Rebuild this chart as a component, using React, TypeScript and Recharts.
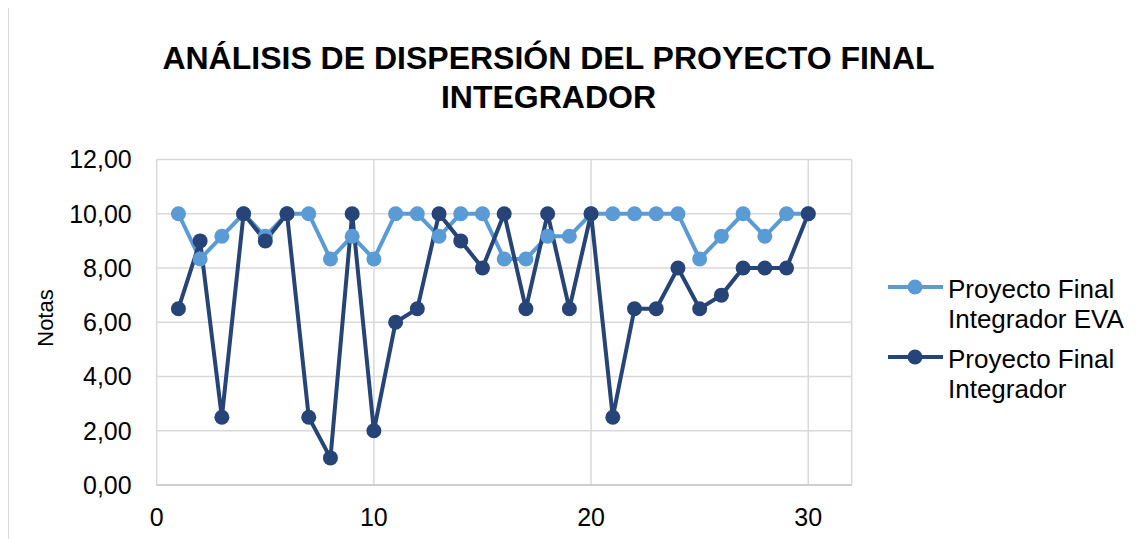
import { LineChart, Line, XAxis, YAxis, CartesianGrid, Legend, Label } from 'recharts';

const FONT = '"Liberation Sans", Arial, sans-serif';

const students = [1, 2, 3, 4, 5, 6, 7, 8, 9, 10, 11, 12, 13, 14, 15, 16, 17, 18, 19, 20, 21, 22, 23, 24, 25, 26, 27, 28, 29, 30];
const evaGrades = [10, 8.33, 9.17, 10, 9.17, 10, 10, 8.33, 9.17, 8.33, 10, 10, 9.17, 10, 10, 8.33, 8.33, 9.17, 9.17, 10, 10, 10, 10, 10, 8.33, 9.17, 10, 9.17, 10, 10];
const finalGrades = [6.5, 9, 2.5, 10, 9, 10, 2.5, 1, 10, 2, 6, 6.5, 10, 9, 8, 10, 6.5, 10, 6.5, 10, 2.5, 6.5, 6.5, 8, 6.5, 7, 8, 8, 8, 10];
const seriesNames = ['Proyecto Final Integrador EVA', 'Proyecto Final Integrador'];
const xTicks = [0, 10, 20, 30];
const yTicks = [0, 2, 4, 6, 8, 10, 12];

const data = students.map((n, i) => ({ n, eva: evaGrades[i], final: finalGrades[i] }));

const fmt = (v: number) => v.toFixed(2).replace('.', ',');

function LegendBox({ payload }: any) {
  const items = [...(payload || [])].sort(
    (a: any, b: any) => seriesNames.indexOf(a.value) - seriesNames.indexOf(b.value)
  );
  return (
    <div style={{ fontFamily: FONT, fontSize: 26, lineHeight: '30px', color: '#000' }}>
      {items.map((p: any, i: number) => (
        <div key={p.value} style={{ display: 'flex', alignItems: 'flex-start', marginTop: i ? 10 : 0 }}>
          <svg width={55} height={30} style={{ flex: 'none' }}>
            <line x1={0} y1={13} x2={55} y2={13} stroke={p.color} strokeWidth={4} />
            <circle cx={27} cy={13} r={7.5} fill={p.color} />
          </svg>
          <div style={{ marginLeft: 5, width: 190 }}>{p.value}</div>
        </div>
      ))}
    </div>
  );
}

export default function App() {
  return (
    <div
      style={{
        position: 'relative',
        width: 1133,
        height: 531,
        marginTop: -1,
        borderTop: '1px solid #d9d9d9',
        borderLeft: '1px solid #d9d9d9',
        overflow: 'hidden',
        fontFamily: FONT,
      }}
    >
      <div
        style={{
          position: 'absolute',
          left: 139.5,
          width: 800,
          top: 31.4,
          textAlign: 'center',
          fontWeight: 'bold',
          fontSize: 32,
          lineHeight: '39px',
          color: '#000',
          zIndex: 2,
        }}
      >
        ANÁLISIS DE DISPERSIÓN DEL PROYECTO FINAL
        <br />
        INTEGRADOR
      </div>
      <LineChart
        width={1133}
        height={531}
        data={data}
        margin={{ top: 151.5, right: 290.3, bottom: 24, left: 47.7 }}
      >
        <CartesianGrid stroke="#d9d9d9" strokeWidth={1.5} />
        <XAxis
          type="number"
          dataKey="n"
          domain={[0, 32]}
          ticks={xTicks}
          height={30}
          tickLine={false}
          tickSize={0}
          tickMargin={23}
          axisLine={{ stroke: '#c8c8c8', strokeWidth: 1.5 }}
          tick={{ fontSize: 25, fill: '#000', fontFamily: FONT }}
        />
        <YAxis
          type="number"
          domain={[0, 12]}
          ticks={yTicks}
          width={100}
          tickFormatter={fmt}
          tickLine={false}
          tickSize={0}
          tickMargin={25}
          axisLine={false}
          tick={{ fontSize: 25, fill: '#000', fontFamily: FONT }}
        >
          <Label
            content={() => (
              <text
                x={36}
                y={310}
                transform="rotate(-90 36 310)"
                textAnchor="middle"
                dominantBaseline="central"
                fontSize={22}
                fontFamily={FONT}
                fill="#000"
              >
                Notas
              </text>
            )}
          />
        </YAxis>
        <Legend
          layout="horizontal"
          align="center"
          verticalAlign="middle"
          wrapperStyle={{ left: 879, top: 266, width: 260 }}
          content={<LegendBox />}
        />
        <Line
          name={seriesNames[0]}
          type="linear"
          dataKey="eva"
          stroke="#5b9bd5"
          strokeWidth={4}
          dot={{ r: 7.5, fill: '#5b9bd5', stroke: 'none' }}
          activeDot={false}
          isAnimationActive={false}
        />
        <Line
          name={seriesNames[1]}
          type="linear"
          dataKey="final"
          stroke="#264478"
          strokeWidth={4}
          dot={{ r: 7.5, fill: '#264478', stroke: 'none' }}
          activeDot={false}
          isAnimationActive={false}
        />
      </LineChart>
    </div>
  );
}
